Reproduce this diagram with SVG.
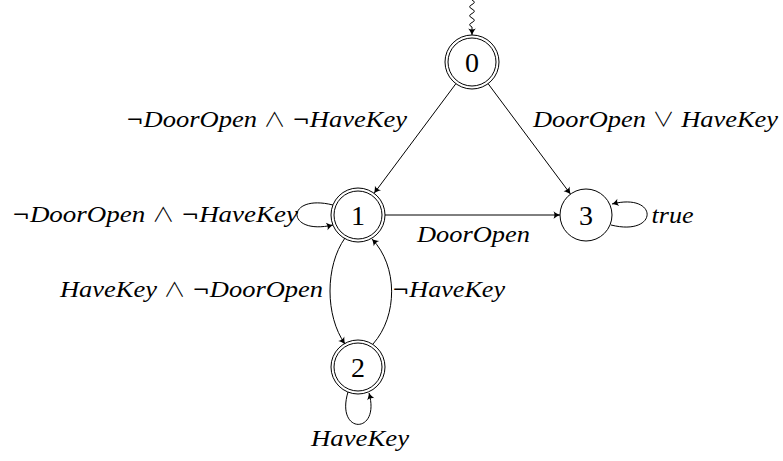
<svg xmlns="http://www.w3.org/2000/svg" width="783" height="461" viewBox="0 0 783 461">
<style>
.st{fill:none;stroke:#000;stroke-width:1}
.num{font-family:"Liberation Serif","Times New Roman",Times,serif;font-size:28px;text-anchor:middle;fill:#000}
.lbl{font-family:"Liberation Serif","Times New Roman",Times,serif;font-size:24px;font-style:italic;fill:#000}
.up{font-style:normal;font-family:"Noto Sans CJK JP","DejaVu Sans",sans-serif;font-weight:300;font-size:20px}
.ng{font-style:normal;font-family:"DejaVu Sans",sans-serif;font-weight:normal;font-size:19px}
.e{fill:none;stroke:#000;stroke-width:1;marker-end:url(#arr)}
</style>
<defs>
<marker id="arr" viewBox="-8 -5 9 10" refX="0" refY="0" markerWidth="9" markerHeight="10" markerUnits="userSpaceOnUse" orient="auto">
<path d="M0 0 C-2 -0.8 -4.5 -2.2 -6.5 -3.8 C-5.2 -1.5 -5.2 1.5 -6.5 3.8 C-4.5 2.2 -2 0.8 0 0 Z" fill="#000"/>
</marker>
</defs>
<g id="connectors">
<path class="e" d="M472 0 q4.6 2.25 0 4.5 q-4.6 2.25 0 4.5 q4.6 2.25 0 4.5 q-4.6 2.25 0 4.5 q4.6 2.25 0 4.5 q-4.6 2.25 0 4.5 L472 35"/>
<path class="e" d="M455.9 83.7 L374.1 193.3"/>
<path class="e" d="M488.1 83.7 L570.5 194.1"/>
<path class="e" d="M385 215 L560 215"/>
<path class="e" d="M333 205 C285 193 285 236 333 225"/>
<path class="e" d="M611 225 C659 237 659 192 612 204"/>
<path class="e" d="M345 238 C325 266 325 316 345 344"/>
<path class="e" d="M373 344 C398 316 398 266 372 239"/>
<path class="e" d="M348 392 C335 435 381 435 369 393"/>
</g>
<g id="node0">
<circle class="st" cx="472" cy="62" r="27"/>
<circle class="st" cx="472" cy="62" r="24"/>
<text class="num" x="472" y="71.5">0</text>
</g>
<g id="node1">
<circle class="st" cx="358" cy="215" r="27"/>
<circle class="st" cx="358" cy="215" r="24"/>
<text class="num" x="358" y="224.5">1</text>
</g>
<g id="node2">
<circle class="st" cx="358" cy="367" r="27"/>
<circle class="st" cx="358" cy="367" r="24"/>
<text class="num" x="358" y="376.5">2</text>
</g>
<g id="node3">
<circle class="st" cx="586" cy="215" r="26"/>
<text class="num" x="586" y="224.5">3</text>
</g>
<g id="labels">
<text class="lbl" x="126" y="127" textLength="281" lengthAdjust="spacingAndGlyphs"><tspan class="ng">¬</tspan>DoorOpen <tspan class="up">∧</tspan> <tspan class="ng">¬</tspan>HaveKey</text>
<text class="lbl" x="533" y="127" textLength="245" lengthAdjust="spacingAndGlyphs">DoorOpen <tspan class="up">∨</tspan> HaveKey</text>
<text class="lbl" x="12" y="222" textLength="286" lengthAdjust="spacingAndGlyphs"><tspan class="ng">¬</tspan>DoorOpen <tspan class="up">∧</tspan> <tspan class="ng">¬</tspan>HaveKey</text>
<text class="lbl" x="651.5" y="222.5" textLength="42" lengthAdjust="spacingAndGlyphs">true</text>
<text class="lbl" x="417" y="241.5" textLength="113" lengthAdjust="spacingAndGlyphs">DoorOpen</text>
<text class="lbl" x="60" y="297" textLength="263" lengthAdjust="spacingAndGlyphs">HaveKey <tspan class="up">∧</tspan> <tspan class="ng">¬</tspan>DoorOpen</text>
<text class="lbl" x="392" y="297" textLength="113" lengthAdjust="spacingAndGlyphs"><tspan class="ng">¬</tspan>HaveKey</text>
<text class="lbl" x="311" y="446" textLength="98" lengthAdjust="spacingAndGlyphs">HaveKey</text>
</g>
</svg>
